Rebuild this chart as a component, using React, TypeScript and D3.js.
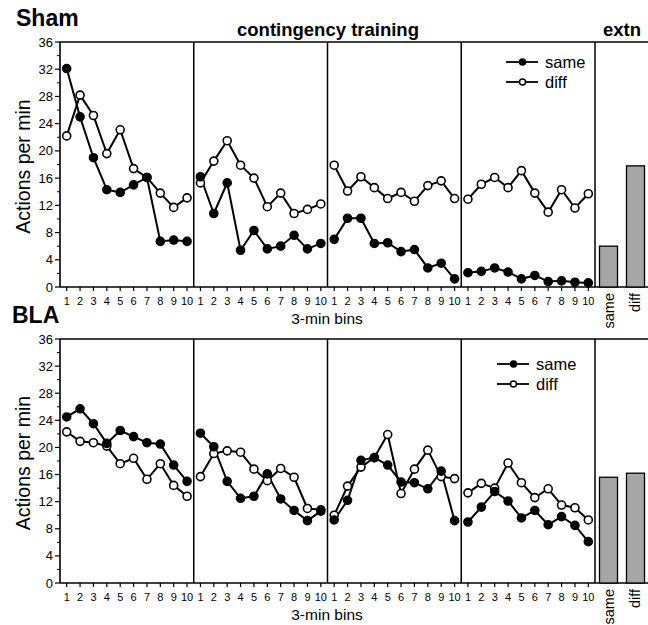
import React from "react";
import * as d3 from "d3";

const bins = d3.range(1, 11);
const sections = ["s1", "s2", "s3", "s4"];
const barCats = ["same", "diff"];
const yTicks = [0, 4, 8, 12, 16, 20, 24, 28, 32, 36];

// Sham group, actions per min per 3-min bin, one array per session
const shamSame = [
  [32.1, 25.0, 19.0, 14.3, 13.9, 15.0, 16.1, 6.7, 6.9, 6.7],
  [16.2, 10.8, 15.3, 5.4, 8.3, 5.6, 6.0, 7.6, 5.6, 6.4],
  [7.0, 10.1, 10.1, 6.4, 6.5, 5.2, 5.5, 2.8, 3.5, 1.2],
  [2.1, 2.3, 2.8, 2.2, 1.2, 1.7, 0.8, 0.9, 0.7, 0.6],
];
const shamDiff = [
  [22.2, 28.2, 25.2, 19.6, 23.1, 17.4, 16.1, 13.8, 11.7, 13.1],
  [15.3, 18.5, 21.5, 17.9, 16.0, 11.8, 13.8, 10.8, 11.4, 12.2],
  [17.9, 14.1, 16.2, 14.6, 13.0, 13.9, 12.6, 14.9, 15.6, 13.0],
  [12.9, 15.1, 16.1, 14.6, 17.1, 13.8, 11.0, 14.3, 11.6, 13.7],
];
const shamExtn = [6.0, 17.8];

// BLA group
const blaSame = [
  [24.5, 25.7, 23.5, 20.6, 22.5, 21.6, 20.7, 20.5, 17.4, 15.0],
  [22.1, 20.1, 15.0, 12.5, 12.8, 16.1, 12.4, 10.7, 9.2, 10.6],
  [9.3, 12.2, 18.1, 18.5, 17.4, 14.9, 14.8, 13.9, 16.5, 9.2],
  [9.0, 11.2, 13.5, 12.1, 9.6, 10.7, 8.6, 9.8, 8.5, 6.1],
];
const blaDiff = [
  [22.3, 20.9, 20.7, 20.2, 17.6, 18.4, 15.3, 17.6, 14.4, 12.8],
  [15.7, 19.1, 19.5, 19.3, 16.8, 15.1, 16.9, 15.6, 11.0, 10.8],
  [10.0, 14.3, 17.1, 18.5, 21.9, 13.2, 16.8, 19.6, 15.7, 15.4],
  [13.3, 14.7, 14.0, 17.7, 14.8, 12.6, 13.9, 11.5, 11.1, 9.3],
];
const blaExtn = [15.6, 16.2];

const font = "'Liberation Sans', Arial, sans-serif";

const Panel = ({ top, bottom, title, same, diff, extn, legend }) => {
  const left = 60;
  const right = 648;
  const secEnd = 595;

  const y = d3.scaleLinear().domain([0, 36]).range([bottom, top]);
  const xSec = d3.scaleBand().domain(sections).range([left, secEnd]);
  const xBin = d3.scalePoint().domain(bins).range([0, xSec.bandwidth()]).padding(0.5);
  const xBar = d3
    .scaleBand()
    .domain(barCats)
    .range([596, right])
    .paddingInner(1 / 3)
    .paddingOuter(0.13);

  const line = (sec) =>
    d3
      .line()
      .x((d, i) => xSec(sec) + xBin(bins[i]))
      .y((d) => y(d));

  const minor = d3.range(2, 36, 4);

  const dots = (vals, sec, filled) =>
    vals.map((v, i) => (
      <circle
        key={sec + i}
        cx={xSec(sec) + xBin(bins[i])}
        cy={y(v)}
        r={4}
        fill={filled ? "#000" : "#fff"}
        stroke="#000"
        strokeWidth={1.6}
      />
    ));

  return (
    <g fontFamily={font}>
      <text x={title === "Sham" ? 16 : 12} y={top - 16} fontSize={23} fontWeight="bold">
        {title}
      </text>
      {/* frame */}
      <line x1={left} x2={right} y1={top} y2={top} stroke="#000" strokeWidth={1.6} />
      <line x1={left} x2={right} y1={bottom} y2={bottom} stroke="#000" strokeWidth={1.6} />
      <line x1={left} x2={left} y1={top} y2={bottom} stroke="#000" strokeWidth={1.6} />
      {sections.slice(1).concat(["end"]).map((s) => {
        const x = s === "end" ? secEnd : xSec(s);
        return <line key={s} x1={x} x2={x} y1={top} y2={bottom} stroke="#000" strokeWidth={1.5} />;
      })}
      {/* y axis */}
      {yTicks.map((t) => (
        <g key={t}>
          <line x1={left - 5} x2={left} y1={y(t)} y2={y(t)} stroke="#000" strokeWidth={1.2} />
          <text x={left - 7} y={y(t) + 4.5} fontSize={13} textAnchor="end">
            {t}
          </text>
        </g>
      ))}
      {minor.map((t) => (
        <line key={"m" + t} x1={left - 3} x2={left} y1={y(t)} y2={y(t)} stroke="#000" strokeWidth={1} />
      ))}
      <text
        transform={`translate(30,${(top + bottom) / 2 + 2}) rotate(-90)`}
        fontSize={19.5}
        textAnchor="middle"
      >
        Actions per min
      </text>
      {/* x ticks */}
      {sections.map((s) =>
        bins.map((b) => {
          const x = xSec(s) + xBin(b);
          return (
            <g key={s + b}>
              <line x1={x} x2={x} y1={bottom} y2={bottom + 4} stroke="#000" strokeWidth={1.2} />
              <text x={x} y={bottom + 17.5} fontSize={11} textAnchor="middle">
                {b}
              </text>
            </g>
          );
        })
      )}
      <text x={327} y={bottom + 37} fontSize={15.5} textAnchor="middle">
        3-min bins
      </text>
      {/* lines */}
      {sections.map((s, k) => (
        <g key={s}>
          <path d={line(s)(diff[k])} fill="none" stroke="#000" strokeWidth={2} />
          <path d={line(s)(same[k])} fill="none" stroke="#000" strokeWidth={2} />
          {dots(diff[k], s, false)}
          {dots(same[k], s, true)}
        </g>
      ))}
      {/* extinction bars */}
      {barCats.map((c, i) => (
        <g key={c}>
          <rect
            x={xBar(c)}
            y={y(extn[i])}
            width={xBar.bandwidth()}
            height={bottom - y(extn[i])}
            fill="#a6a6a6"
            stroke="#000"
            strokeWidth={1.3}
          />
          <text
            transform={`translate(${xBar(c) + xBar.bandwidth() / 2 + 5},${bottom + 6}) rotate(-90)`}
            fontSize={14.5}
            textAnchor="end"
          >
            {c}
          </text>
        </g>
      ))}
      {/* legend */}
      {["same", "diff"].map((k, i) => (
        <g key={k} transform={`translate(${legend.x},${legend.y + i * 20})`}>
          <line x1={0} x2={32} y1={0} y2={0} stroke="#000" strokeWidth={1.8} />
          <circle cx={16.5} cy={0} r={3} fill={k === "same" ? "#000" : "#fff"} stroke="#000" strokeWidth={1.5} />
          <text x={39} y={5.5} fontSize={16.5}>
            {k}
          </text>
        </g>
      ))}
    </g>
  );
};

export default function App() {
  return (
    <svg width={648} height={625} style={{ position: "absolute", left: 0, top: 0, background: "#fff" }}>
      <rect width={648} height={625} fill="#fff" />
      <text x={328} y={36} fontFamily={font} fontSize={18.5} fontWeight="bold" textAnchor="middle">
        contingency training
      </text>
      <text x={603} y={36} fontFamily={font} fontSize={18.5} fontWeight="bold">
        extn
      </text>
      <Panel
        top={42}
        bottom={287}
        title="Sham"
        same={shamSame}
        diff={shamDiff}
        extn={shamExtn}
        legend={{ x: 506, y: 62 }}
      />
      <Panel
        top={339}
        bottom={583}
        title="BLA"
        same={blaSame}
        diff={blaDiff}
        extn={blaExtn}
        legend={{ x: 497, y: 364 }}
      />
    </svg>
  );
}
